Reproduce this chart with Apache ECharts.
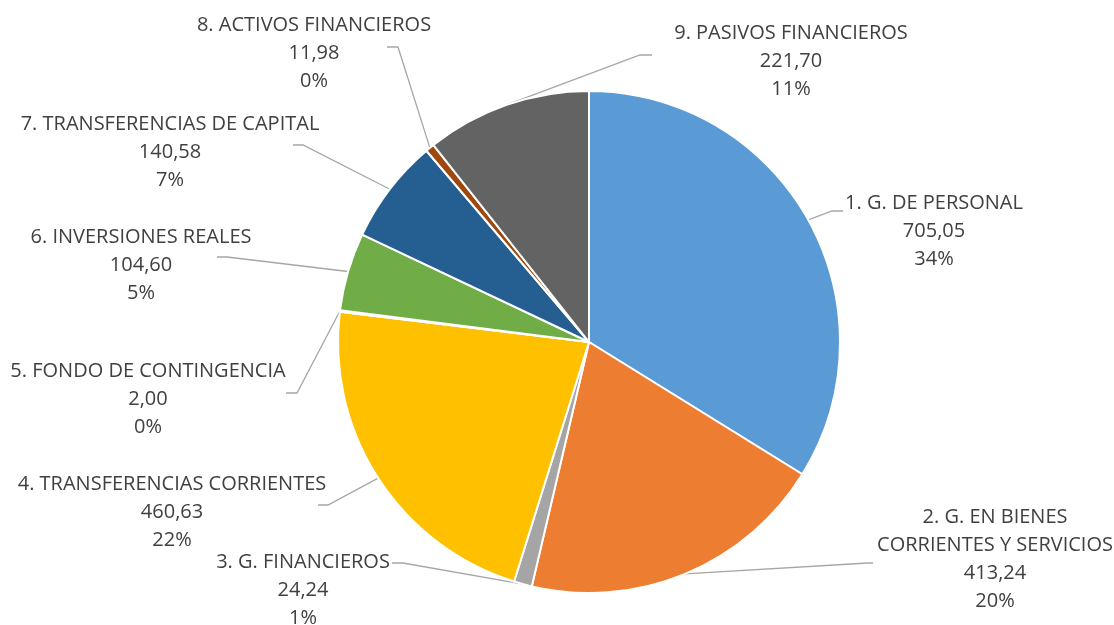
<!DOCTYPE html>
<html>
<head>
<meta charset="utf-8">
<script src="https://cdn.jsdelivr.net/npm/echarts@6/dist/echarts.min.js"></script>
<style>
  html, body { margin: 0; padding: 0; background: #fff; }
  #chart { width: 1114px; height: 625px; }
</style>
</head>
<body>
<div id="chart"></div>
<script>
// datos del presupuesto
var categories = [
  '1. G. DE PERSONAL',
  '2. G. EN BIENES\nCORRIENTES Y SERVICIOS',
  '3. G. FINANCIEROS',
  '4. TRANSFERENCIAS CORRIENTES',
  '5. FONDO DE CONTINGENCIA',
  '6. INVERSIONES REALES',
  '7. TRANSFERENCIAS DE CAPITAL',
  '8. ACTIVOS FINANCIEROS',
  '9. PASIVOS FINANCIEROS'
];
var values = [705.05, 413.24, 24.24, 460.63, 2.00, 104.60, 140.58, 11.98, 221.70];
var colors = ['#5B9BD5', '#ED7D31', '#A5A5A5', '#FFC000', '#4472C4', '#70AD47', '#255E91', '#9E480E', '#636363'];

// posicion de cada etiqueta: centro del texto, codo y final de la linea guia
var labelPos = [
  { x: 934, y: 231, elbow: [832, 211], end: [843, 211] },
  { x: 995, y: 559, elbow: [868, 563], end: [873, 563] },
  { x: 303, y: 590, elbow: [403, 563], end: [392, 563] },
  { x: 172, y: 512, elbow: [328, 505], end: [318, 505] },
  { x: 148, y: 399, elbow: [297, 393], end: [286, 393] },
  { x: 141, y: 265, elbow: [227, 257], end: [217, 257] },
  { x: 170, y: 152, elbow: [303, 145], end: [293, 145] },
  { x: 314, y: 53, elbow: [398, 47], end: [387, 47] },
  { x: 791, y: 61, elbow: [640, 55], end: [652, 55] }
];

var chart = echarts.init(document.getElementById('chart'));

chart.setOption({
  backgroundColor: '#fff',
  animation: false,
  series: [{
    type: 'pie',
    center: [589, 342],
    radius: 251,
    startAngle: 90,
    clockwise: true,
    percentPrecision: 0,
    avoidLabelOverlap: false,
    minShowLabelAngle: 0,
    itemStyle: { borderColor: '#fff', borderWidth: 2 },
    label: {
      show: true,
      position: 'outside',
      fontFamily: 'Open Sans',
      fontSize: 20,
      lineHeight: 28,
      color: '#404040',
      align: 'center',
      formatter: function (p) {
        return p.name + '\n' + p.value.toFixed(2).replace('.', ',') + '\n' + p.percent + '%';
      }
    },
    labelLine: {
      show: true,
      length: 10,
      length2: 10,
      lineStyle: { color: '#A6A6A6', width: 1.3 }
    },
    labelLayout: function (params) {
      var pos = labelPos[params.dataIndex];
      var pts = params.labelLinePoints;
      var start = pts && pts[0] ? pts[0] : pos.elbow;
      return {
        x: pos.x,
        y: pos.y,
        align: 'center',
        verticalAlign: 'middle',
        labelLinePoints: [start, pos.elbow, pos.end]
      };
    },
    emphasis: { disabled: true },
    data: categories.map(function (c, i) {
      return { name: c, value: values[i], itemStyle: { color: colors[i] } };
    })
  }]
});
</script>
</body>
</html>
